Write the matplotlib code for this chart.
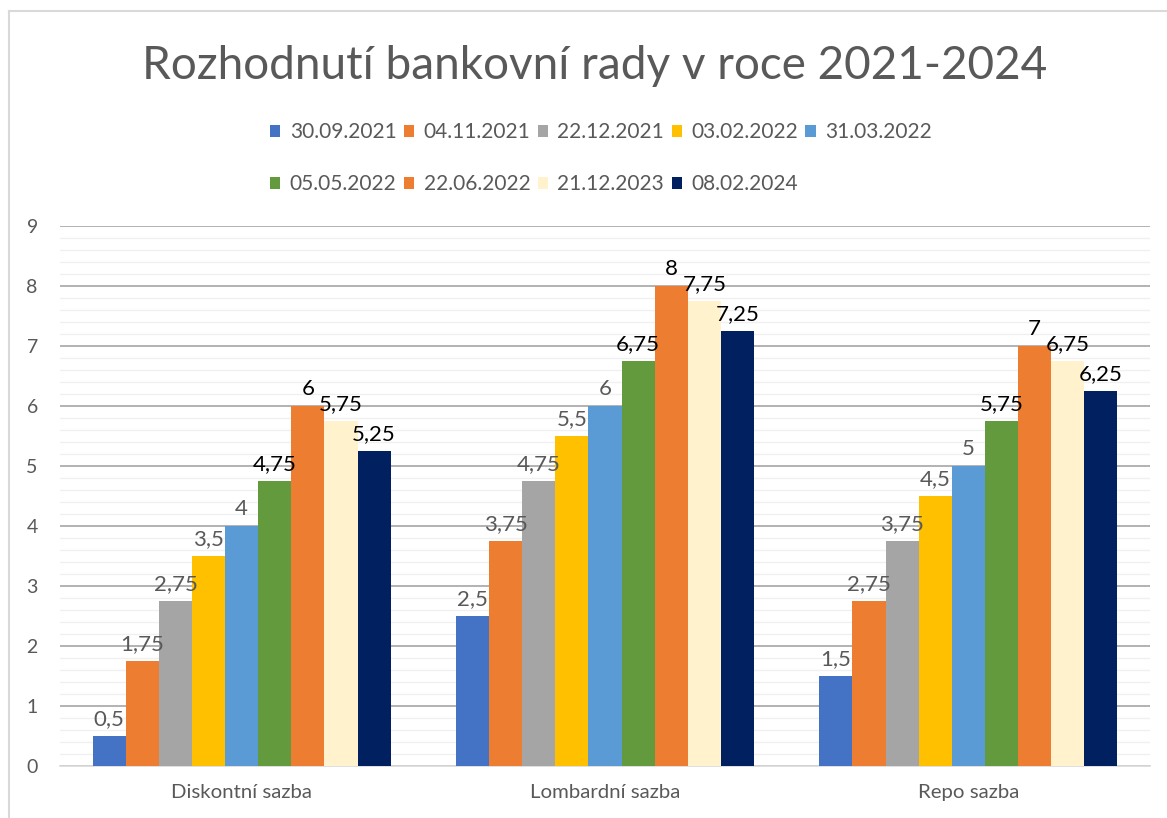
import matplotlib
matplotlib.use("Agg")
import matplotlib.pyplot as plt
import numpy as np
from matplotlib.patches import Patch
from matplotlib.lines import Line2D

categories = ["Diskontní sazba", "Lombardní sazba", "Repo sazba"]
series_names = ["30.09.2021", "04.11.2021", "22.12.2021", "03.02.2022", "31.03.2022",
                "05.05.2022", "22.06.2022", "21.12.2023", "08.02.2024"]
diskontni = [0.5, 1.75, 2.75, 3.5, 4, 4.75, 6, 5.75, 5.25]
lombardni = [2.5, 3.75, 4.75, 5.5, 6, 6.75, 8, 7.75, 7.25]
repo = [1.5, 2.75, 3.75, 4.5, 5, 5.75, 7, 6.75, 6.25]
colors = ["#4472C4", "#ED7D31", "#A5A5A5", "#FFC000", "#5B9BD5",
          "#629A3D", "#ED7D31", "#FFF2CC", "#002060"]
label_colors = ["#595959"] * 5 + ["#000000"] * 4

plt.rcParams['font.family'] = ['Lato', 'DejaVu Sans']

W, H = 1167, 818
fig = plt.figure(figsize=(W / 100, H / 100), dpi=100)
ax = fig.add_axes([60 / W, 1 - 766 / H, (1150 - 60) / W, (766 - 226) / H])

values = np.array([diskontni, lombardni, repo])  # cat x series
n = len(series_names)
x = np.arange(len(categories))
group = 0.82
bw = group / n
for i in range(n):
    pos = x - group / 2 + bw * (i + 0.5)
    ax.bar(pos, values[:, i], width=bw, color=colors[i], zorder=3)
    for p, v in zip(pos, values[:, i]):
        lab = ("%g" % v).replace(".", ",")
        ax.annotate(lab, (p, v), xytext=(0, 5), textcoords="offset points",
                    ha="center", va="bottom", fontsize=16, color=label_colors[i], zorder=5)

ax.set_xlim(-0.5, 2.5)
ax.set_ylim(0, 9)
ax.set_yticks(range(10))
ax.set_yticks(np.arange(0, 9.01, 0.2), minor=True)
ax.grid(axis="y", which="major", color="#A6A6A6", linewidth=1.2, zorder=0)
ax.grid(axis="y", which="minor", color="#F0F0F0", linewidth=1.0, zorder=0)
ax.tick_params(axis="y", which="both", length=0, labelsize=14, labelcolor="#595959", pad=16)
ax.tick_params(axis="x", length=0, labelsize=14.7, labelcolor="#595959", pad=13)
ax.set_xticks(x)
ax.set_xticklabels(categories)
for s in ["top", "right", "left"]:
    ax.spines[s].set_visible(False)
ax.spines["bottom"].set_color("#D9D9D9")
ax.spines["bottom"].set_linewidth(1.2)

fig.text(595 / W, 1 - 66 / H, "Rozhodnutí bankovní rady v roce 2021-2024",
         ha="center", va="center", fontsize=33, color="#595959")

handles = [Patch(facecolor=c, edgecolor="none") for c in colors]
order = [0, 5, 1, 6, 2, 7, 3, 8, 4]
fig.legend([handles[i] for i in order], [series_names[i] for i in order],
           ncol=5, loc="upper left", bbox_to_anchor=(270 / W, 1 - 122 / H),
           frameon=False, fontsize=15, labelcolor="#595959",
           handlelength=0.5, handleheight=0.5, handletextpad=0.45,
           columnspacing=0.35, labelspacing=1.55, borderpad=0, borderaxespad=0)

# outer border (top and left visible)
fig.add_artist(Line2D([9 / W, 9 / W], [0, 1 - 11 / H], transform=fig.transFigure, color="#D9D9D9", lw=1.5))
fig.add_artist(Line2D([9 / W, 1], [1 - 11 / H, 1 - 11 / H], transform=fig.transFigure, color="#D9D9D9", lw=1.5))

fig.savefig("out.png", dpi=100)
